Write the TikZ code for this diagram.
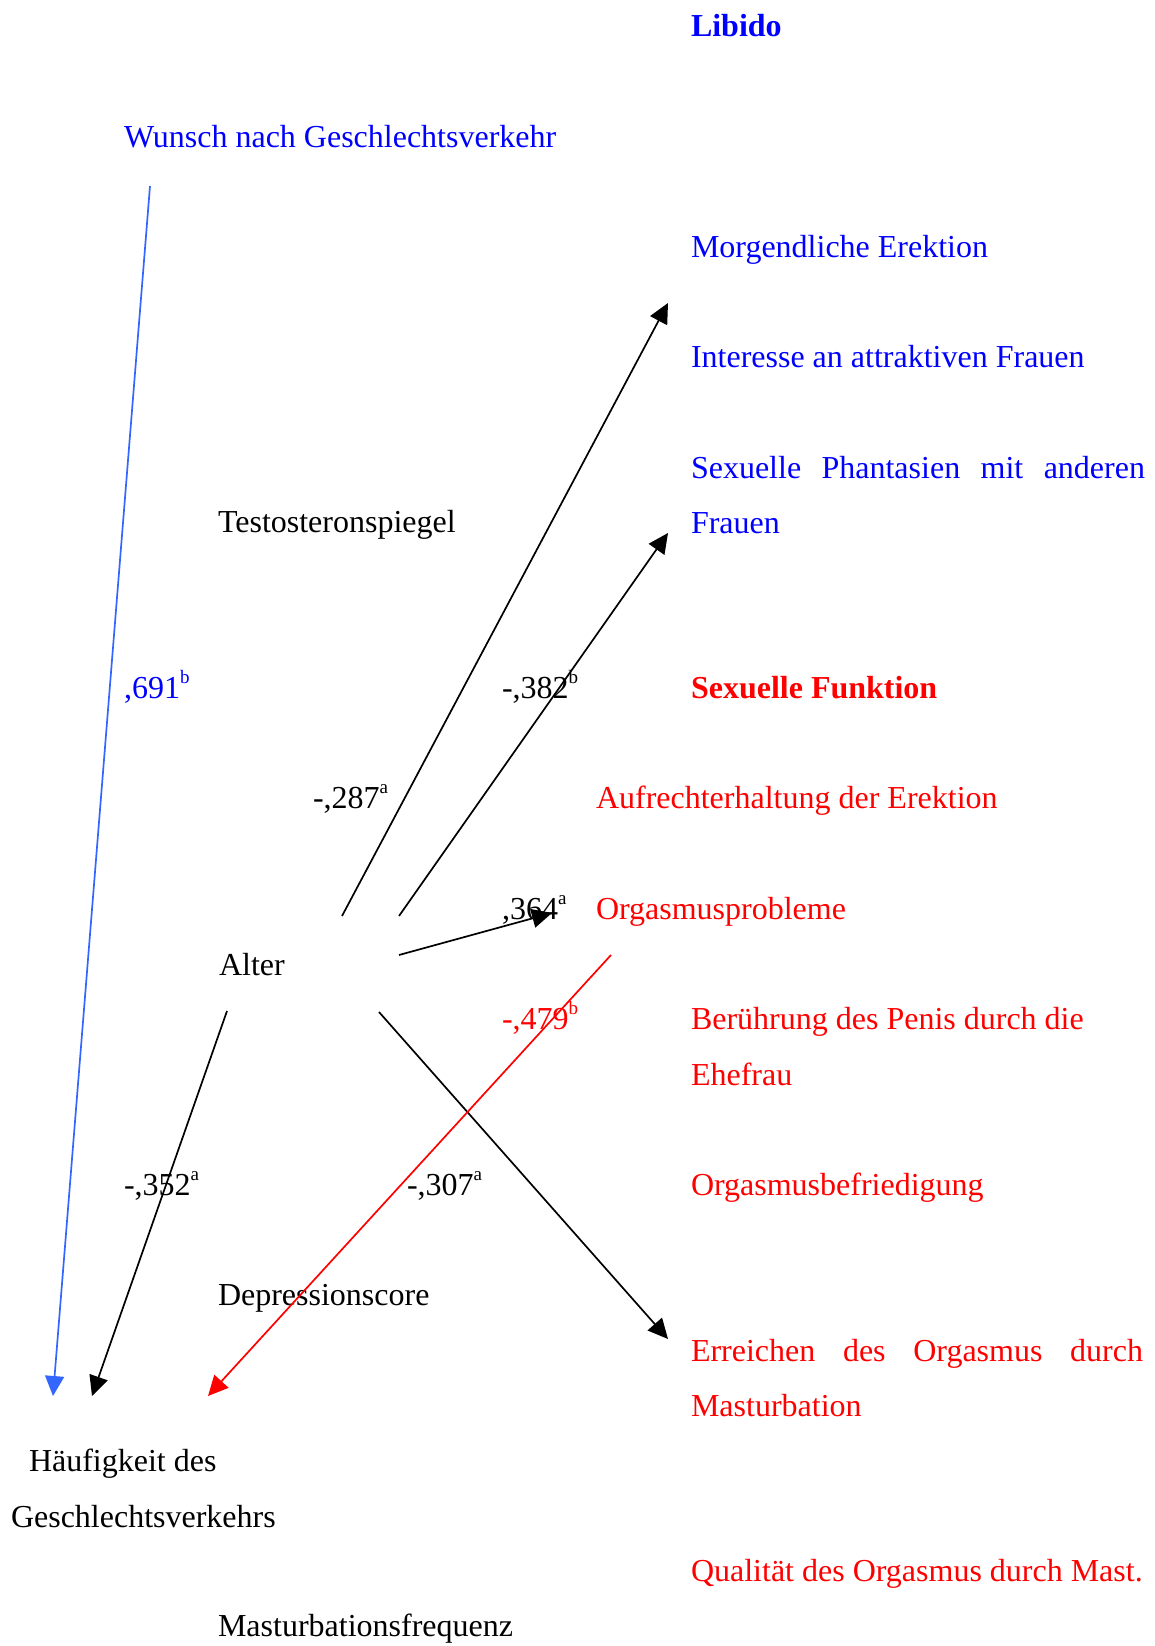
\documentclass[tikz,border=0pt]{standalone}
\usepackage{fontspec}
\setmainfont{Liberation Serif}
\usetikzlibrary{arrows.meta}
\definecolor{tblue}{HTML}{0000FF}
\definecolor{tred}{HTML}{FF0000}
\definecolor{lblue}{HTML}{3366FF}
\newcommand{\sz}{\fontsize{32pt}{38pt}\selectfont}
\newcommand{\sups}[1]{\raisebox{0.45em}{\fontsize{19pt}{20pt}\selectfont #1}}
\tikzset{
  lbl/.style={anchor=base west, inner sep=0pt, outer sep=0pt},
  bluetxt/.style={lbl, text=tblue},
  redtxt/.style={lbl, text=tred},
  conn/.style={line width=1.7pt, -{Triangle[length=20pt,width=19pt]}},
}
\begin{document}
\begin{tikzpicture}[x=1pt,y=-1pt, font=\sz]
\useasboundingbox (0,0) rectangle (1154,1646);
% right column, blue
\node[bluetxt, font=\sz\bfseries] (libido) at (691,37) {Libido};
\node[bluetxt] (wunsch) at (124,147) {Wunsch nach Geschlechtsverkehr};
\node[bluetxt] (morgen) at (691,257) {Morgendliche Erektion};
\node[bluetxt] (interesse) at (691,367) {Interesse an attraktiven Frauen};
\node[bluetxt] (phant1) at (691,478) {\hbox to 454pt{Sexuelle\hfill Phantasien\hfill mit\hfill anderen}};
\node[bluetxt] (phant2) at (691,533) {Frauen};
% black left labels
\node[lbl] (testo) at (218,532) {Testosteronspiegel};
\node[lbl] (alter) at (219,975) {Alter};
\node[lbl] (depr) at (218,1305) {Depressionscore};
\node[lbl] (haeuf1) at (29,1471) {Häufigkeit des};
\node[lbl] (haeuf2) at (11,1527) {Geschlechtsverkehrs};
\node[lbl] (mastfreq) at (218,1636) {Masturbationsfrequenz};
% coefficients
\node[bluetxt] (c691) at (124,698) {,691\sups{b}};
\node[lbl] (c382) at (502,698) {-,382\sups{b}};
\node[lbl] (c287) at (313,808) {-,287\sups{a}};
\node[lbl] (c364) at (502,919) {,364\sups{a}};
\node[redtxt] (c479) at (502,1029) {-,479\sups{b}};
\node[lbl] (c352) at (124,1195) {-,352\sups{a}};
\node[lbl] (c307) at (407,1195) {-,307\sups{a}};
% red column
\node[redtxt, font=\sz\bfseries] (sexfkt) at (691,698) {Sexuelle Funktion};
\node[redtxt] (aufrecht) at (596,808) {Aufrechterhaltung der Erektion};
\node[redtxt] (orgprob) at (596,919) {Orgasmusprobleme};
\node[redtxt] (beruehr1) at (691,1029) {Berührung des Penis durch die};
\node[redtxt] (beruehr2) at (691,1085) {Ehefrau};
\node[redtxt] (orgbef) at (691,1195) {Orgasmusbefriedigung};
\node[redtxt] (erreich1) at (691,1361) {\hbox to 452pt{Erreichen\hfill des\hfill Orgasmus\hfill durch}};
\node[redtxt] (erreich2) at (691,1416) {Masturbation};
\node[redtxt] (qual) at (691,1581) {Qualität des Orgasmus durch Mast.};
% connector end points
\coordinate (wS) at (150,186);
\coordinate (hB) at (53,1396);
\coordinate (hK) at (92,1396);
\coordinate (hR) at (208,1396);
\coordinate (aM) at (342,916);
\coordinate (aP) at (399,916);
\coordinate (aO) at (399,955);
\coordinate (aE) at (379,1012);
\coordinate (aH) at (227,1011);
\coordinate (mT) at (668,303);
\coordinate (pT) at (668,533);
\coordinate (oT) at (552,913);
\coordinate (eT) at (668,1339);
\coordinate (oS) at (611,955);
% connectors
\draw[conn, lblue] (wS) -- (hB);
\draw[conn] (aM) -- (mT);
\draw[conn] (aP) -- (pT);
\draw[conn] (aO) -- (oT);
\draw[conn] (aE) -- (eT);
\draw[conn] (aH) -- (hK);
\draw[conn, tred] (oS) -- (hR);
\end{tikzpicture}
\end{document}
